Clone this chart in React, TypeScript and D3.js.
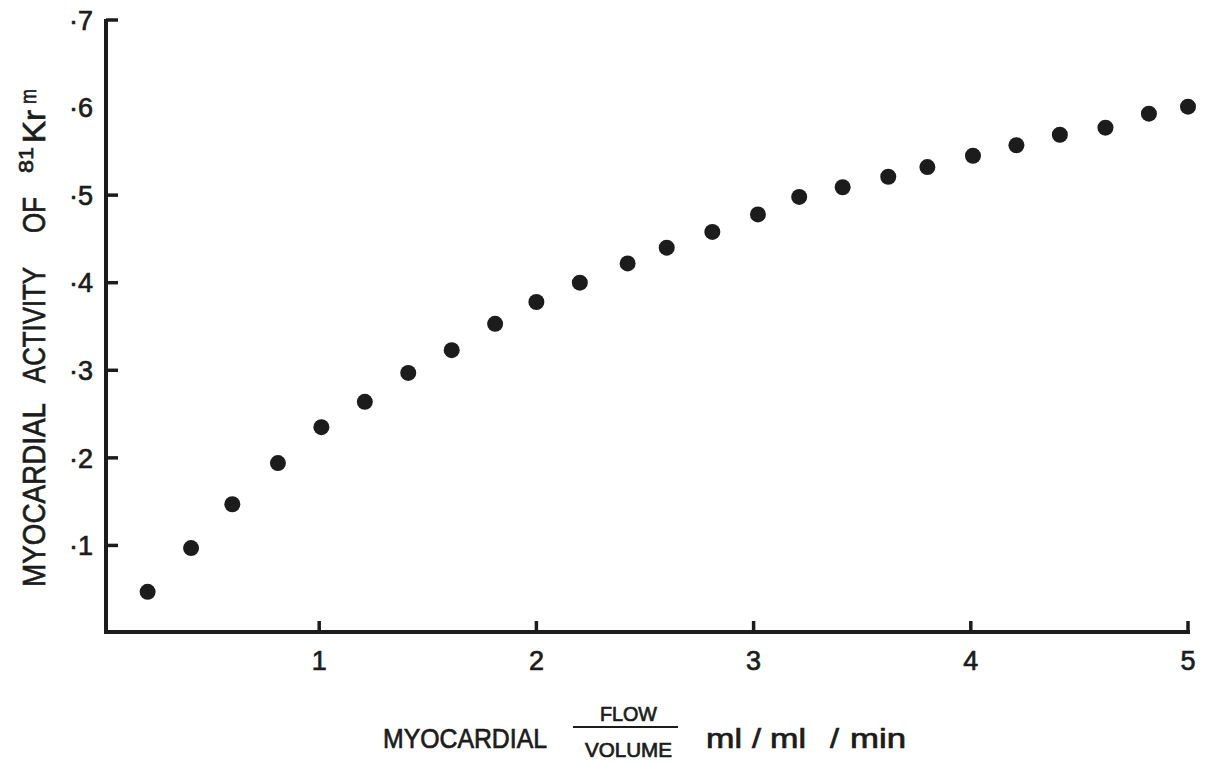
import React from "react";
import * as d3 from "d3";

const flowX = [0.21, 0.41, 0.6, 0.81, 1.01, 1.21, 1.41, 1.61, 1.81, 2.0, 2.2, 2.42, 2.6, 2.81, 3.02, 3.21, 3.41, 3.62, 3.8, 4.01, 4.21, 4.41, 4.62, 4.82, 5.0];
const activityY = [0.047, 0.097, 0.147, 0.194, 0.235, 0.264, 0.297, 0.323, 0.353, 0.378, 0.4, 0.422, 0.44, 0.458, 0.478, 0.498, 0.509, 0.521, 0.532, 0.545, 0.557, 0.569, 0.577, 0.593, 0.601];
const xTicks = [1, 2, 3, 4, 5];
const yTicks = [0.1, 0.2, 0.3, 0.4, 0.5, 0.6, 0.7];
const yTicksMarked = [0.1, 0.2, 0.3, 0.4, 0.5, 0.7];

const W = 1212;
const H = 762;
const INK = "#1c1c1c";
const FONT = "'Liberation Sans', Arial, sans-serif";
const thick = { stroke: INK, strokeWidth: 0.7, paintOrder: "stroke" } as any;

export default function App() {
  const x = d3.scaleLinear().domain([0, 5]).range([102, 1188]);
  const y = d3.scaleLinear().domain([0, 0.7]).range([633, 20]);
  const axisX = 106;
  const axisY = 632;
  const pts = flowX.map((v, i) => ({ x: v, y: activityY[i] }));

  return (
    <svg width={W} height={H} style={{ position: "absolute", left: 0, top: 0, background: "#fff" }} fontFamily={FONT}>
      <rect x={0} y={0} width={W} height={H} fill="#fff" />
      {/* axes */}
      <line x1={axisX} y1={y(0.7) - 1} x2={axisX} y2={axisY + 2} stroke={INK} strokeWidth={4} />
      <line x1={axisX - 2} y1={axisY} x2={1190} y2={axisY} stroke={INK} strokeWidth={4} />
      {yTicksMarked.map((t) => (
        <line key={"yt" + t} x1={axisX} x2={axisX + 12} y1={y(t)} y2={y(t)} stroke={INK} strokeWidth={3.5} />
      ))}
      {xTicks.map((t) => (
        <line key={"xt" + t} x1={x(t)} x2={x(t)} y1={axisY} y2={axisY - 11} stroke={INK} strokeWidth={3.5} />
      ))}
      {/* tick labels */}
      {yTicks.map((t) => (
        <text key={"yl" + t} x={93} y={y(t)} dy="0.36em" textAnchor="end" fontSize={27} fill={INK} {...thick}>
          {"\u00B7" + Math.round(t * 10)}
        </text>
      ))}
      {xTicks.map((t) => (
        <text key={"xl" + t} x={x(t)} y={670} textAnchor="middle" fontSize={27} fill={INK} {...thick}>
          {t}
        </text>
      ))}
      {/* points */}
      {pts.map((p, i) => (
        <circle key={i} cx={x(p.x)} cy={y(p.y)} r={8} fill={INK} />
      ))}
      {/* y-axis title */}
      <g transform="translate(45,587) rotate(-90)" fill={INK} fontSize={31} {...thick}>
        <text x={0} y={0} textLength={184} lengthAdjust="spacingAndGlyphs">MYOCARDIAL</text>
        <text x={204} y={0} textLength={116} lengthAdjust="spacingAndGlyphs">ACTIVITY</text>
        <text x={354} y={0} textLength={36} lengthAdjust="spacingAndGlyphs">OF</text>
        <text x={414} y={-12} fontSize={20} textLength={26} lengthAdjust="spacingAndGlyphs">81</text>
        <text x={444} y={0} textLength={33} lengthAdjust="spacingAndGlyphs">Kr</text>
        <text x={483} y={-9} fontSize={22} textLength={15} lengthAdjust="spacingAndGlyphs">m</text>
      </g>
      {/* x-axis title */}
      <g fill={INK} {...thick}>
        <text x={383} y={748} fontSize={27} textLength={164} lengthAdjust="spacingAndGlyphs">MYOCARDIAL</text>
        <text x={600} y={721} fontSize={20} textLength={57} lengthAdjust="spacingAndGlyphs">FLOW</text>
        <text x={585} y={757} fontSize={20} textLength={87} lengthAdjust="spacingAndGlyphs">VOLUME</text>
        <text x={706} y={748} fontSize={27} textLength={36} lengthAdjust="spacingAndGlyphs">ml</text>
        <text x={752} y={748} fontSize={27} textLength={9} lengthAdjust="spacingAndGlyphs">/</text>
        <text x={770} y={748} fontSize={27} textLength={36} lengthAdjust="spacingAndGlyphs">ml</text>
        <text x={830} y={748} fontSize={27} textLength={9} lengthAdjust="spacingAndGlyphs">/</text>
        <text x={850} y={748} fontSize={27} textLength={56} lengthAdjust="spacingAndGlyphs">min</text>
      </g>
      <line x1={573} x2={678} y1={727} y2={727} stroke={INK} strokeWidth={2} />
    </svg>
  );
}
